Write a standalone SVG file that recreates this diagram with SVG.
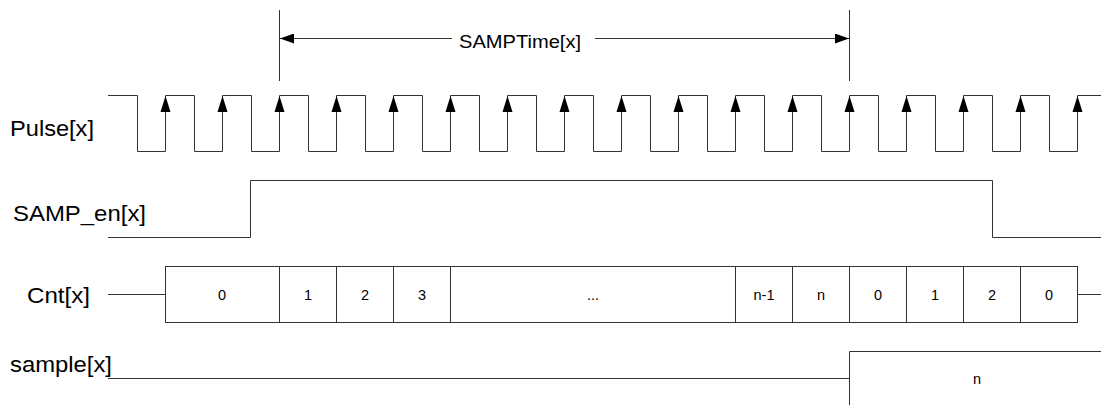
<svg xmlns="http://www.w3.org/2000/svg" width="1101" height="405" viewBox="0 0 1101 405">
<style>
.w{fill:none;stroke:#333;stroke-width:1}
.lbl{font-family:"Liberation Sans",Arial,sans-serif;font-size:22px;fill:#000}
.v{font-family:"Liberation Sans",Arial,sans-serif;font-size:14.5px;fill:#000;text-anchor:middle}
.ah{fill:#000;stroke:none}
</style>
<defs>
<marker id="arr" viewBox="0 0 14 10" refX="14" refY="5" markerWidth="14" markerHeight="10" markerUnits="userSpaceOnUse" orient="auto-start-reverse">
<path d="M0,0 L14,5 L0,10 z" fill="#000"/>
</marker>
</defs>
<rect width="1101" height="405" fill="#fff"/>
<g id="labels">
<text class="lbl" x="10" y="136" textLength="84" lengthAdjust="spacingAndGlyphs">Pulse[x]</text>
<text class="lbl" x="13" y="221" textLength="133" lengthAdjust="spacingAndGlyphs">SAMP_en[x]</text>
<text class="lbl" x="27" y="303" textLength="63" lengthAdjust="spacingAndGlyphs">Cnt[x]</text>
<text class="lbl" x="10" y="372" textLength="102" lengthAdjust="spacingAndGlyphs">sample[x]</text>
</g>
<g id="samptime">
<line class="w" x1="279.5" y1="10" x2="279.5" y2="81"/>
<line class="w" x1="849.5" y1="10" x2="849.5" y2="81"/>
<line class="w" x1="280" y1="38.5" x2="452" y2="38.5" marker-start="url(#arr)"/>
<line class="w" x1="595" y1="38.5" x2="849" y2="38.5" marker-end="url(#arr)"/>
<text class="lbl" x="459" y="48" textLength="122" lengthAdjust="spacingAndGlyphs" style="font-size:19px">SAMPTime[x]</text>
</g>
<g id="pulse">
<path class="w" d="M108,95.5 H137.5 V151.5 H165.5 V95.5 H194.5 V151.5 H222.5 V95.5 H251.5 V151.5 H279.5 V95.5 H308.5 V151.5 H336.5 V95.5 H365.5 V151.5 H393.5 V95.5 H422.5 V151.5 H450.5 V95.5 H479.5 V151.5 H507.5 V95.5 H536.5 V151.5 H564.5 V95.5 H593.5 V151.5 H621.5 V95.5 H650.5 V151.5 H678.5 V95.5 H707.5 V151.5 H735.5 V95.5 H764.5 V151.5 H792.5 V95.5 H821.5 V151.5 H849.5 V95.5 H878.5 V151.5 H906.5 V95.5 H935.5 V151.5 H963.5 V95.5 H992.5 V151.5 H1020.5 V95.5 H1049.5 V151.5 H1077.5 V95.5 H1101"/>
<g class="ah">
<polygon points="165.5,96 160.5,112 170.5,112"/>
<polygon points="222.5,96 217.5,112 227.5,112"/>
<polygon points="279.5,96 274.5,112 284.5,112"/>
<polygon points="336.5,96 331.5,112 341.5,112"/>
<polygon points="393.5,96 388.5,112 398.5,112"/>
<polygon points="450.5,96 445.5,112 455.5,112"/>
<polygon points="507.5,96 502.5,112 512.5,112"/>
<polygon points="564.5,96 559.5,112 569.5,112"/>
<polygon points="621.5,96 616.5,112 626.5,112"/>
<polygon points="678.5,96 673.5,112 683.5,112"/>
<polygon points="735.5,96 730.5,112 740.5,112"/>
<polygon points="792.5,96 787.5,112 797.5,112"/>
<polygon points="849.5,96 844.5,112 854.5,112"/>
<polygon points="906.5,96 901.5,112 911.5,112"/>
<polygon points="963.5,96 958.5,112 968.5,112"/>
<polygon points="1020.5,96 1015.5,112 1025.5,112"/>
<polygon points="1077.5,96 1072.5,112 1082.5,112"/>
</g>
</g>
<g id="samp_en">
<path class="w" d="M108,237.5 H250.5 V180.5 H992.5 V237.5 H1101"/>
</g>
<g id="cnt">
<line class="w" x1="108" y1="294.5" x2="165" y2="294.5"/>
<line class="w" x1="1077" y1="294.5" x2="1101" y2="294.5"/>
<rect class="w" x="165.5" y="266.5" width="912" height="56"/>
<path class="w" d="M279.5,266.5 V322.5 M336.5,266.5 V322.5 M393.5,266.5 V322.5 M450.5,266.5 V322.5 M735.5,266.5 V322.5 M792.5,266.5 V322.5 M849.5,266.5 V322.5 M906.5,266.5 V322.5 M963.5,266.5 V322.5 M1020.5,266.5 V322.5"/>
<text class="v" x="222" y="300">0</text>
<text class="v" x="308" y="300">1</text>
<text class="v" x="365" y="300">2</text>
<text class="v" x="422" y="300">3</text>
<text class="v" x="593" y="300">...</text>
<text class="v" x="764" y="300">n-1</text>
<text class="v" x="821" y="300">n</text>
<text class="v" x="878" y="300">0</text>
<text class="v" x="935" y="300">1</text>
<text class="v" x="992" y="300">2</text>
<text class="v" x="1049" y="300">0</text>
</g>
<g id="sample">
<path class="w" d="M108,378.5 H849.5"/>
<path class="w" d="M849.5,405 V351.5 H1101"/>
<text class="v" x="977" y="384">n</text>
</g>
</svg>
